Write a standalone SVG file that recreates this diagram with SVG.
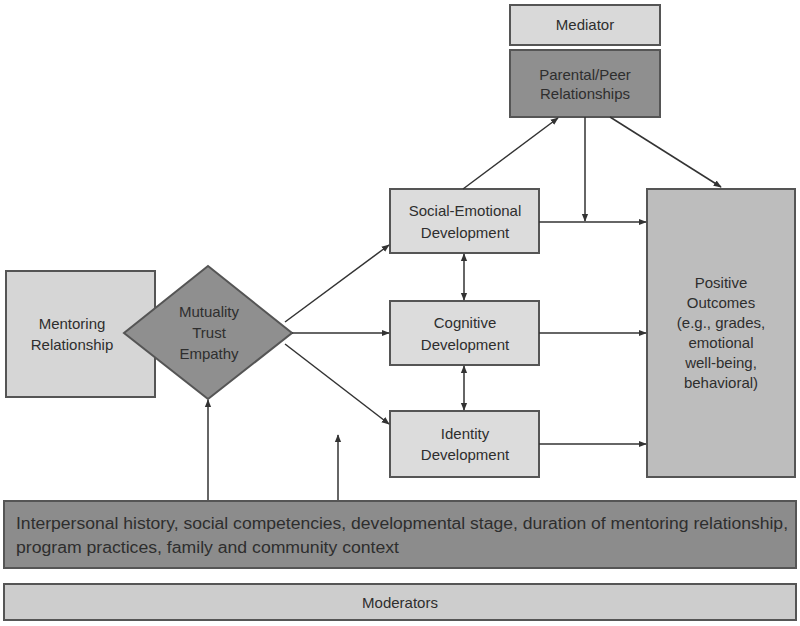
<svg xmlns="http://www.w3.org/2000/svg" width="800" height="626" viewBox="0 0 800 626">
<defs>
<style>
.b{stroke:#555;stroke-width:2}
.t{font-family:"Liberation Sans",Arial,sans-serif;font-size:15px;fill:#2e2e2e;text-anchor:middle}
.c{stroke:#333;stroke-width:1.5;fill:none}
</style>
<marker id="a" viewBox="0 0 10 10" refX="9" refY="5" markerWidth="8" markerHeight="8" markerUnits="userSpaceOnUse" orient="auto-start-reverse"><path d="M0,1 L10,5 L0,9 Z" fill="#333"/></marker>
</defs>
<rect width="800" height="626" fill="#fff"/>
<g id="mediator"><rect class="b" x="510" y="5" width="150" height="40" fill="#d9d9d9"/><text class="t" x="585" y="30">Mediator</text></g>
<g id="parental"><rect class="b" x="510" y="50" width="150" height="67" fill="#8f8f8f"/><text class="t" x="585" y="80">Parental/Peer</text><text class="t" x="585" y="99">Relationships</text></g>
<g id="mentoring"><rect class="b" x="6" y="271" width="149" height="126" fill="#d6d6d6"/><text class="t" x="72" y="329">Mentoring</text><text class="t" x="72" y="350">Relationship</text></g>
<g id="mutuality"><polygon class="b" points="208,266 292,333 208,399 124,333" fill="#8f8f8f"/><text class="t" x="209" y="317">Mutuality</text><text class="t" x="209" y="338">Trust</text><text class="t" x="209" y="359">Empathy</text></g>
<g id="social"><rect class="b" x="390" y="189" width="149" height="64" fill="#dcdcdc"/><text class="t" x="465" y="216">Social-Emotional</text><text class="t" x="465" y="238">Development</text></g>
<g id="cognitive"><rect class="b" x="390" y="301" width="149" height="64" fill="#dcdcdc"/><text class="t" x="465" y="328">Cognitive</text><text class="t" x="465" y="350">Development</text></g>
<g id="identity"><rect class="b" x="390" y="411" width="149" height="66" fill="#dcdcdc"/><text class="t" x="465" y="439">Identity</text><text class="t" x="465" y="460">Development</text></g>
<g id="outcomes"><rect class="b" x="647" y="189" width="148" height="288" fill="#bdbdbd"/><text class="t" x="721" y="288">Positive</text><text class="t" x="721" y="308">Outcomes</text><text class="t" x="721" y="328">(e.g., grades,</text><text class="t" x="721" y="348">emotional</text><text class="t" x="721" y="368">well-being,</text><text class="t" x="721" y="388">behavioral)</text></g>
<g id="moderator-factors"><rect class="b" x="4" y="501" width="792" height="67" fill="#8c8c8c"/><text class="t" style="text-anchor:start;font-size:16px" x="16" y="529" textLength="772" lengthAdjust="spacingAndGlyphs">Interpersonal history, social competencies, developmental stage, duration of mentoring relationship,</text><text class="t" style="text-anchor:start;font-size:16px" x="16" y="553" textLength="383" lengthAdjust="spacingAndGlyphs">program practices, family and community context</text></g>
<g id="moderators"><rect class="b" x="4" y="584" width="792" height="36" fill="#cdcdcd"/><text class="t" x="400" y="608">Moderators</text></g>
<g id="connectors">
<line class="c" x1="285" y1="322" x2="389" y2="245" marker-end="url(#a)"/>
<line class="c" x1="292" y1="333" x2="389" y2="333" marker-end="url(#a)"/>
<line class="c" x1="285" y1="344" x2="389" y2="424" marker-end="url(#a)"/>
<line class="c" x1="463" y1="189" x2="558" y2="118" marker-end="url(#a)"/>
<line class="c" x1="610" y1="117" x2="721" y2="187" marker-end="url(#a)"/>
<line class="c" x1="585" y1="117" x2="585" y2="221" marker-end="url(#a)"/>
<line class="c" x1="539" y1="222" x2="646" y2="222" marker-end="url(#a)"/>
<line class="c" x1="539" y1="333" x2="646" y2="333" marker-end="url(#a)"/>
<line class="c" x1="539" y1="444" x2="646" y2="444" marker-end="url(#a)"/>
<line class="c" x1="464" y1="254" x2="464" y2="300" marker-start="url(#a)" marker-end="url(#a)"/>
<line class="c" x1="464" y1="366" x2="464" y2="410" marker-start="url(#a)" marker-end="url(#a)"/>
<line class="c" x1="208" y1="500" x2="208" y2="400" marker-end="url(#a)"/>
<line class="c" x1="338" y1="500" x2="338" y2="435" marker-end="url(#a)"/>
</g>
</svg>
